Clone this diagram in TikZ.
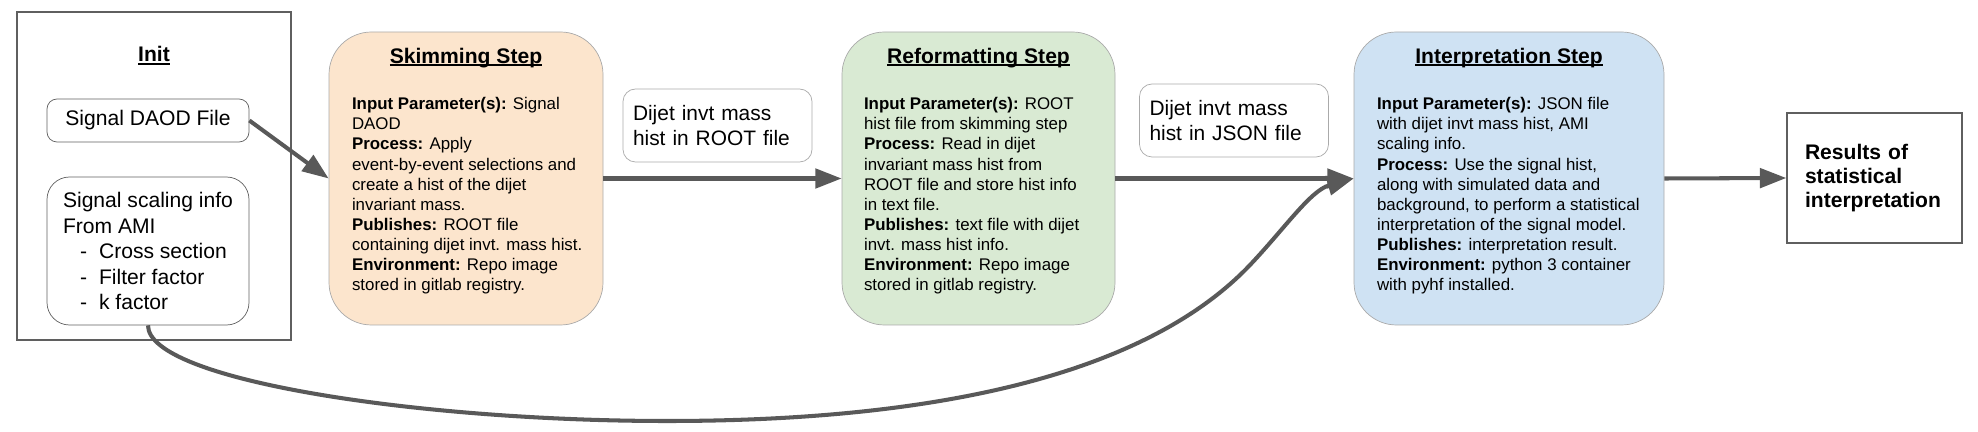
\documentclass[tikz,border=0pt]{standalone}
\usepackage{fontspec}
\setmainfont{Liberation Sans}
\usetikzlibrary{arrows.meta}
\definecolor{skimfill}{HTML}{FCE5CD}
\definecolor{reformfill}{HTML}{D9EAD3}
\definecolor{interpfill}{HTML}{CFE2F3}
\definecolor{arrowgray}{HTML}{595959}
\definecolor{boxline}{HTML}{AAAAAA}
\definecolor{darkline}{HTML}{5F5F5F}
\newcommand{\ulinetitle}[1]{\setbox0=\hbox{#1}\rlap{\rule[-1.6pt]{\wd0}{0.9pt}}\box0}
\newcommand{\amiitem}[1]{\hspace*{0.34cm}-\hspace*{0.24cm}#1}

\begin{document}
\begin{tikzpicture}[
	stepbox/.style={draw=boxline, rounded corners=0.85cm, minimum width=5.48cm, minimum height=5.86cm},
	steptitle/.style={font=\fontsize{12}{14}\selectfont\bfseries, inner sep=0pt, anchor=base},
	stepbody/.style={font=\fontsize{9.6}{11.44}\selectfont, align=left, inner sep=0pt, anchor=north west},
	filebox/.style={draw=darkline, minimum width=4.04cm, font=\fontsize{12}{14.5}\selectfont},
	labelbox/.style={draw=boxline, rounded corners=0.25cm, minimum width=3.78cm, minimum height=1.46cm, text width=3.38cm, inner xsep=0.2cm, align=left, font=\fontsize{11.9}{14.6}\selectfont},
	flow/.style={draw=arrowgray, line width=2.3pt, -{Triangle[length=15pt,width=11pt]}}
	]
	\useasboundingbox (0,0) rectangle (39.56,-8.64);
	
	\node[draw=darkline, line width=0.8pt, minimum width=5.48cm, minimum height=6.56cm] (init) at (3.08,-3.52) {};
	\node[steptitle] (inittitle) at ([yshift=-1.01cm]init.north) {\ulinetitle{Init}};
	\node[filebox, rounded corners=0.2cm, minimum height=0.86cm] (daod) at (2.96,-2.41) {Signal DAOD File};
	\node[filebox, rounded corners=0.45cm, minimum height=2.96cm, align=left] (scaling) at (2.96,-5.02) {Signal scaling info\\From AMI\\\amiitem{Cross section}\\\amiitem{Filter factor}\\\amiitem{k factor}};
	
	\node[stepbox, fill=skimfill] (skim) at (9.32,-3.57) {};
	\node[steptitle] (skimtitle) at ([yshift=-0.63cm]skim.north) {\ulinetitle{Skimming Step}};
	\node[stepbody] (skimbody) at ([xshift=0.46cm, yshift=-1.31cm]skim.north west) {\textbf{Input Parameter(s):} Signal\\DAOD\\\textbf{Process:} Apply\\event-by-event selections and\\create a hist of the dijet\\invariant mass.\\\textbf{Publishes:} ROOT file\\containing dijet invt. mass hist.\\\textbf{Environment:} Repo image\\stored in gitlab registry.};
	
	\node[stepbox, fill=reformfill, minimum width=5.46cm] (reform) at (19.57,-3.57) {};
	\node[steptitle] (reformtitle) at ([yshift=-0.63cm]reform.north) {\ulinetitle{Reformatting Step}};
	\node[stepbody] (reformbody) at ([xshift=0.44cm, yshift=-1.31cm]reform.north west) {\textbf{Input Parameter(s):} ROOT\\hist file from skimming step\\\textbf{Process:} Read in dijet\\invariant mass hist from\\ROOT file and store hist info\\in text file.\\\textbf{Publishes:} text file with dijet\\invt. mass hist info.\\\textbf{Environment:} Repo image\\stored in gitlab registry.};
	
	\node[stepbox, fill=interpfill, minimum width=6.2cm] (interp) at (30.18,-3.57) {};
	\node[steptitle] (interptitle) at ([yshift=-0.63cm]interp.north) {\ulinetitle{Interpretation Step}};
	\node[stepbody] (interpbody) at ([xshift=0.46cm, yshift=-1.31cm]interp.north west) {\textbf{Input Parameter(s):} JSON file\\with dijet invt mass hist, AMI\\scaling info.\\\textbf{Process:} Use the signal hist,\\along with simulated data and\\background, to perform a statistical\\interpretation of the signal model.\\\textbf{Publishes:} interpretation result.\\\textbf{Environment:} python 3 container\\with pyhf installed.};
	
	\node[labelbox] (rootlabel) at (14.35,-2.51) {Dijet invt mass\\hist in ROOT file};
	\node[labelbox] (jsonlabel) at (24.68,-2.41) {Dijet invt mass\\hist in JSON file};
	\node[draw=darkline, line width=0.8pt, minimum width=3.5cm, minimum height=2.6cm, text width=2.78cm, inner xsep=0.36cm, align=left, font=\fontsize{12}{13.9}\selectfont\bfseries] (results) at (37.49,-3.56) {Results of\\statistical\\interpretation};
	
	\draw[flow] (daod.east) -- (skim.west);
	\draw[flow] (skim.east) -- (reform.west);
	\draw[flow] (reform.east) -- (interp.west);
	\draw[flow] (interp.east) -- (results.west);
	
	\coordinate (low) at (13.34,-8.42);
	\coordinate (bend) at (25,-5.3);
	\draw[flow] (scaling.south) .. controls +(0,-1.1) and +(-4.94,0) .. (low) .. controls +(5.66,0) and +(-2,-2.1) .. (bend) .. controls +(0.7,0.74) and +(-0.86,-0.24) .. (interp.west);
	
\end{tikzpicture}
\end{document}
